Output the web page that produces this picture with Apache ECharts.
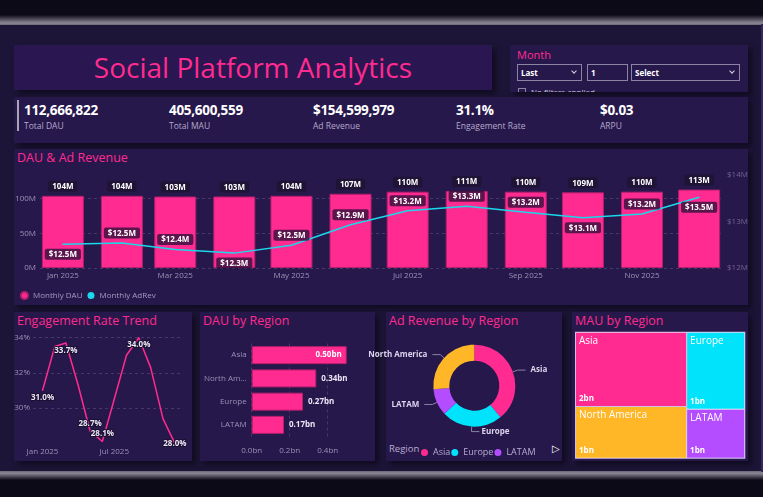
<!DOCTYPE html>
<html>
<head>
<meta charset="utf-8">
<title>Social Platform Analytics</title>
<script src="https://cdn.jsdelivr.net/npm/echarts@6.0.0/dist/echarts.min.js"></script>
<style>
  html, body { margin: 0; padding: 0; }
  body {
    width: 763px; height: 497px; overflow: hidden; position: relative;
    background: #0d0a17;
    font-family: "Open Sans", "Noto Sans", sans-serif;
  }
  .board { position: absolute; left: 0; top: 24px; width: 763px; height: 449px; background: #1d1537; }
  .edge-top { position: absolute; left: 0; top: 15px; width: 763px; height: 10px;
    background: linear-gradient(to bottom, rgba(13,10,23,0), #8b8794 80%, #6d6878); }
  .edge-bottom { position: absolute; left: 0; top: 471px; width: 763px; height: 9px;
    background: linear-gradient(to bottom, #6d6878, #8b8794 25%, rgba(13,10,23,0)); }
  .edge-right { position: absolute; left: 761px; top: 24px; width: 2px; height: 448px; background: #35265e; }
  .panel { position: absolute; background: #27184b; box-shadow: 4px 4px 5px rgba(8,5,18,0.55); overflow: hidden; }
  .panel h2 { margin: 0; position: absolute; left: 3px; top: 0; font-weight: 400; font-size: 12.5px;
    line-height: 18px; color: #ff2b91; white-space: nowrap; }
  .title { background: #2a1650; }
  .title h1 { margin: 0; position: absolute; left: 0; right: 0; top: 4px; text-align: center;
    font-weight: 400; font-size: 28px; line-height: 36px; color: #ff2b91; white-space: nowrap; }
  .slicer .lbl { position: absolute; left: 7px; top: 2px; font-size: 11px; line-height: 16px; color: #ff2b91; }
  .box { position: absolute; top: 19px; height: 15px; border: 1.5px solid #8c84a3; color: #fff;
    font-size: 8px; font-weight: 700; line-height: 15px; padding-left: 3px; box-sizing: content-box; }
  .chev { position: absolute; right: 5px; top: 4px; width: 3px; height: 3px;
    border-right: 1px solid #d8d2e6; border-bottom: 1px solid #d8d2e6; transform: rotate(45deg); }
  .nofilter { position: absolute; left: 8px; top: 42px; font-size: 8px; line-height: 10px; color: #cfc8de; white-space: nowrap; }
  .nofilter span { display: inline-block; width: 6px; height: 6px; border: 1px solid #8c84a3; margin-right: 5px; vertical-align: -1px; }
  .kpi-bar { position: absolute; left: 3px; top: 3px; width: 2px; height: 31px; background: #a9a3b5; }
  .kpi { position: absolute; top: 5px; white-space: nowrap; }
  .kpi .v { font-size: 13.5px; font-weight: 700; line-height: 16px; color: #ffffff; letter-spacing: -0.3px; }
  .kpi .l { font-size: 8.5px; line-height: 12px; color: #b3a8cb; margin-top: 2px; }
  .region-title { position: absolute; left: 3px; top: 130px; font-size: 9.5px; line-height: 14px; color: #b7acd2; }
  .more { position: absolute; left: 166px; top: 130px; font-size: 10px; line-height: 14px; color: #ffffff;
    font-family: "DejaVu Sans", sans-serif; }
  #chart { position: absolute; left: 0; top: 0; width: 763px; height: 497px; z-index: 5; }
</style>
</head>
<body>
<div class="board"></div>
<div class="edge-top"></div>
<div class="edge-bottom"></div>
<div class="edge-right"></div>

<div class="panel title" style="left:14px;top:45px;width:478px;height:45px">
  <h1>Social Platform Analytics</h1>
</div>

<div class="panel slicer" style="left:510px;top:45px;width:238px;height:47px">
  <div class="lbl">Month</div>
  <div class="box" style="left:7px;width:60px">Last<i class="chev"></i></div>
  <div class="box" style="left:77px;width:36px">1</div>
  <div class="box" style="left:121px;width:104px">Select<i class="chev"></i></div>
  <div class="nofilter"><span></span>No filters applied</div>
</div>

<div class="panel" id="kpis" style="left:14px;top:97px;width:734px;height:46px">
  <div class="kpi-bar"></div>
</div>

<div class="panel" style="left:14px;top:149px;width:734px;height:156px"><h2>DAU &amp; Ad Revenue</h2></div>
<div class="panel" style="left:14px;top:312px;width:178px;height:149px"><h2>Engagement Rate Trend</h2></div>
<div class="panel" style="left:200px;top:312px;width:175px;height:149px"><h2>DAU by Region</h2></div>
<div class="panel" style="left:386px;top:312px;width:176px;height:149px">
  <h2>Ad Revenue by Region</h2>
  <div class="region-title">Region</div>
  <div class="more">&#9655;</div>
</div>
<div class="panel" style="left:572px;top:312px;width:176px;height:149px"><h2>MAU by Region</h2></div>

<div id="chart"></div>

<script>
// KPI cards
const kpiLabels = ['Total DAU', 'Total MAU', 'Ad Revenue', 'Engagement Rate', 'ARPU'];
const kpiValues = ['112,666,822', '405,600,559', '$154,599,979', '31.1%', '$0.03'];

// monthly series (Jan..Dec 2025)
const monthStarts = ['2025-01-01', '2025-02-01', '2025-03-01', '2025-04-01', '2025-05-01', '2025-06-01',
  '2025-07-01', '2025-08-01', '2025-09-01', '2025-10-01', '2025-11-01', '2025-12-01'];
const monthlyDau = [104, 104, 103, 103, 104, 107, 110, 111, 110, 109, 110, 113]; // millions
const monthlyAdRev = [12.51, 12.54, 12.40, 12.32, 12.49, 12.93, 13.23, 13.33, 13.20, 13.08, 13.16, 13.52]; // $M
const adRevLabelSide = ['bottom', 'top', 'top', 'bottom', 'top', 'top', 'top', 'top', 'top', 'bottom', 'top', 'bottom'];
const mainTickMonths = ['2025-01-01', '2025-03-01', '2025-05-01', '2025-07-01', '2025-09-01', '2025-11-01'];

const engagementRate = [31.0, 33.5, 33.7, 31.3, 28.7, 28.1, 30.5, 33.0, 34.0, 32.3, 29.4, 28.0];
const engagementLabelSide = ['bottom', '', 'bottom', '', 'top', 'top', '', '', 'bottom', '', '', 'inside'];
const engTickMonths = ['2025-01-01', '2025-07-01'];

// regions
const dauRegions = ['Asia', 'North America', 'Europe', 'LATAM'];
const dauByRegion = [0.50, 0.34, 0.27, 0.17]; // bn
const dauLabelSide = ['insideRight', 'right', 'right', 'right'];

const adRevRegions = ['Asia', 'Europe', 'LATAM', 'North America'];
const adRevByRegion = [60.3, 37.1, 16.4, 40.8]; // $M
const legendRegions = ['Asia', 'Europe', 'LATAM'];

const mauRegions = ['Asia', 'North America', 'Europe', 'LATAM'];
const mauByRegion = [1.88, 1.31, 1.02, 0.65]; // bn

const pink = '#ff2b91';
const regionColors = { 'Asia': pink, 'Europe': '#00e3fa', 'LATAM': '#b34dff', 'North America': '#ffb627' };
const axisText = '#9a90b6';
const gridLine = { color: 'rgba(190,180,230,0.2)', type: [3, 3], width: 1 };
const monthShort = ['Jan', 'Feb', 'Mar', 'Apr', 'May', 'Jun', 'Jul', 'Aug', 'Sep', 'Oct', 'Nov', 'Dec'];

function toTime(s) {
  const [y, m, d] = s.split('-').map(Number);
  return new Date(y, m - 1, d).getTime();
}
function monthLabel(v) {
  const d = new Date(v);
  return monthShort[d.getMonth()] + ' ' + d.getFullYear();
}

const kpiBox = document.getElementById('kpis');
const kpiLeft = [10, 155, 299, 442, 586];
kpiLabels.forEach((label, i) => {
  const el = document.createElement('div');
  el.className = 'kpi';
  el.style.left = kpiLeft[i] + 'px';
  el.innerHTML = '<div class="v">' + kpiValues[i] + '</div><div class="l">' + label + '</div>';
  kpiBox.appendChild(el);
});

const chart = echarts.init(document.getElementById('chart'));

// date axes are plain value axes over timestamps, labelled on the month starts
function dateAxis(gridIndex, from, to, ticks) {
  return {
    gridIndex, type: 'value', min: toTime(from), max: toTime(to), scale: true,
    axisLine: { show: false }, axisTick: { show: false }, splitLine: { show: false },
    axisLabel: {
      customValues: ticks.map(toTime), formatter: monthLabel,
      color: axisText, fontSize: 8, margin: 4, hideOverlap: false,
    },
  };
}

// Power BI put the Europe label to the right of its leader line; mirror it there
function europeLabelRight(p) {
  if (adRevRegions[p.dataIndex] !== 'Europe' || !p.labelLinePoints) {
    return {};
  }
  const [a, b, c] = p.labelLinePoints;
  const end = [2 * b[0] - c[0], c[1]];
  return {
    x: end[0] + 2,
    y: p.labelRect.y + p.labelRect.height / 2,
    align: 'left',
    verticalAlign: 'middle',
    labelLinePoints: [a, b, end],
  };
}

const option = {
  animation: false,
  textStyle: { fontFamily: '"Open Sans", "Noto Sans", sans-serif' },
  grid: [
    { left: 40, top: 175, width: 682, height: 93, outerBoundsMode: 'none' },
    { left: 33, top: 337.7, width: 147, height: 105.6, outerBoundsMode: 'none' },
    { left: 251.7, top: 343.5, width: 98.8, height: 93, outerBoundsMode: 'none' },
  ],
  legend: [
    {
      data: ['Monthly DAU', 'Monthly AdRev'], left: 15, top: 286, icon: 'circle',
      itemWidth: 7, itemHeight: 7, itemGap: 5, selectedMode: false,
      textStyle: { color: '#a59bc0', fontSize: 8 },
    },
    {
      data: legendRegions, left: 416, top: 443, icon: 'circle',
      itemWidth: 7, itemHeight: 7, itemGap: 1, selectedMode: false,
      textStyle: { color: '#b7acd2', fontSize: 9 },
    },
  ],
  xAxis: [
    dateAxis(0, '2024-12-20', '2025-12-13', mainTickMonths),
    dateAxis(1, '2024-12-08', '2025-12-14', engTickMonths),
    {
      gridIndex: 2, type: 'value', min: 0, max: 0.52, interval: 0.2,
      axisLine: { show: false }, axisTick: { show: false },
      splitLine: { lineStyle: gridLine, showMaxLine: false },
      axisLabel: {
        color: axisText, fontSize: 8, margin: 10, showMaxLabel: false,
        formatter: (v) => v.toFixed(1) + 'bn',
      },
    },
  ],
  yAxis: [
    {
      gridIndex: 0, type: 'value', min: 0, max: 134, interval: 50,
      axisLine: { show: false }, axisTick: { show: false },
      splitLine: { lineStyle: gridLine, showMaxLine: false },
      axisLabel: { color: axisText, fontSize: 8, margin: 4, showMaxLabel: false, formatter: (v) => v + 'M' },
    },
    {
      gridIndex: 0, type: 'value', position: 'right', min: 12, max: 14, interval: 1,
      axisLine: { show: false }, axisTick: { show: false }, splitLine: { show: false },
      axisLabel: { color: '#6f6590', fontSize: 8, margin: 5, formatter: (v) => '$' + v + 'M' },
    },
    {
      gridIndex: 1, type: 'value', min: 28, max: 34, interval: 2,
      axisLine: { show: false }, axisTick: { show: false },
      splitLine: { lineStyle: gridLine, showMinLine: false },
      axisLabel: { color: axisText, fontSize: 8, margin: 3, showMinLabel: false, formatter: (v) => v + '%' },
    },
    {
      gridIndex: 2, type: 'category', inverse: true, data: dauRegions,
      axisLine: { show: false }, axisTick: { show: false },
      axisLabel: { color: axisText, fontSize: 8, margin: 5, width: 45, overflow: 'truncate', ellipsis: '...' },
    },
  ],
  series: [
    {
      name: 'Monthly DAU', type: 'bar', xAxisIndex: 0, yAxisIndex: 0, barWidth: 42,
      itemStyle: { color: pink, borderColor: '#b51f6c', borderWidth: 1 },
      label: {
        show: true, position: 'top', distance: 4, formatter: (p) => p.value[1] + 'M',
        color: '#ffffff', fontSize: 8, fontWeight: 'bold',
        backgroundColor: '#1f1336', padding: [2, 4, 1, 4], borderRadius: 2,
      },
      data: monthStarts.map((d, i) => [toTime(d), monthlyDau[i]]),
    },
    {
      name: 'Monthly AdRev', type: 'line', xAxisIndex: 0, yAxisIndex: 1,
      symbol: 'circle', symbolSize: 1, showSymbol: true, color: '#1ad8ea', lineStyle: { width: 1.5 },
      label: {
        show: true, distance: 4, formatter: (p) => '$' + p.value[1].toFixed(1) + 'M',
        color: '#ffffff', fontSize: 8, fontWeight: 'bold',
        backgroundColor: 'rgba(35,15,55,0.75)', padding: [2, 4, 1, 4], borderRadius: 2,
      },
      data: monthStarts.map((d, i) => ({
        value: [toTime(d), monthlyAdRev[i]],
        label: { position: adRevLabelSide[i] },
      })),
    },
    {
      name: 'Engagement Rate', type: 'line', xAxisIndex: 1, yAxisIndex: 2,
      symbol: 'circle', symbolSize: 1, showSymbol: true, color: pink, lineStyle: { width: 1.5 },
      label: {
        show: false, distance: 3, formatter: (p) => p.value[1].toFixed(1) + '%',
        color: '#ece6f7', fontSize: 8, fontWeight: 'bold',
        textBorderColor: '#1a1030', textBorderWidth: 2,
      },
      data: monthStarts.map((d, i) => ({
        value: [toTime(d), engagementRate[i]],
        label: engagementLabelSide[i] ? { show: true, position: engagementLabelSide[i] } : { show: false },
      })),
    },
    {
      name: 'DAU by Region', type: 'bar', xAxisIndex: 2, yAxisIndex: 3, barWidth: 18,
      itemStyle: { color: pink, borderColor: '#b51f6c', borderWidth: 1 },
      label: {
        show: true, distance: 5, formatter: (p) => p.value.toFixed(2) + 'bn',
        color: '#ece6f7', fontSize: 8, fontWeight: 'bold',
      },
      data: dauByRegion.map((v, i) => ({
        value: v,
        label: { position: dauLabelSide[i], color: i === 0 ? '#ffffff' : '#ece6f7' },
      })),
    },
    {
      name: 'Ad Revenue by Region', type: 'pie', center: [474.3, 385.7], radius: [25, 41],
      startAngle: 90, clockwise: true, avoidLabelOverlap: true,
      label: { color: '#ddd4ee', fontSize: 8, fontWeight: 'bold' },
      labelLine: { length: 5, length2: 8, lineStyle: { color: '#8b82a3', width: 1 } },
      labelLayout: europeLabelRight,
      emphasis: { disabled: true },
      data: adRevRegions.map((n, i) => ({ name: n, value: adRevByRegion[i], itemStyle: { color: regionColors[n] } })),
    },
    {
      name: 'MAU by Region', type: 'treemap', left: 575, top: 331.7, width: 170.3, height: 127,
      roam: false, nodeClick: false, breadcrumb: { show: false },
      levels: [{ itemStyle: { borderColor: '#cdbfe8', borderWidth: 1, gapWidth: 1 } }],
      label: { show: true, position: 'insideTopLeft', distance: 3, padding: 0, color: '#ffffff', fontSize: 10, formatter: '{b}' },
      data: mauRegions.map((n, i) => ({ name: n, value: mauByRegion[i], itemStyle: { color: regionColors[n] } })),
    },
    {
      name: 'MAU values', type: 'treemap', left: 575, top: 331.7, width: 170.3, height: 127,
      roam: false, nodeClick: false, silent: true, breadcrumb: { show: false },
      levels: [{ itemStyle: { borderColor: 'rgba(0,0,0,0)', borderWidth: 1, gapWidth: 1 } }],
      label: {
        show: true, position: 'insideBottomLeft', distance: 3, padding: 0, color: '#ffffff', fontSize: 8, fontWeight: 'bold',
        formatter: (p) => Math.round(p.value) + 'bn',
      },
      data: mauRegions.map((n, i) => ({ name: n, value: mauByRegion[i], itemStyle: { color: 'rgba(0,0,0,0)' } })),
    },
  ],
};

chart.setOption(option);
</script>
</body>
</html>
